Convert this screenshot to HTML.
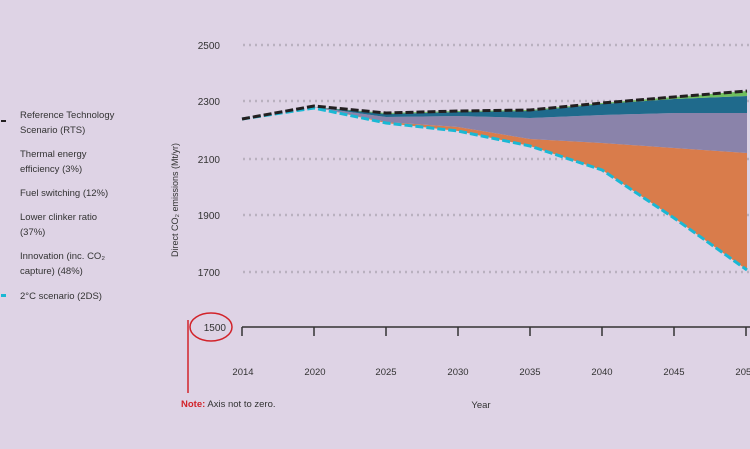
<!DOCTYPE html>
<html><head><meta charset="utf-8"><style>
body{margin:0;background:#ded3e5;}
svg{display:block;font-family:"Liberation Sans",sans-serif;}
</style></head><body>
<svg width="750" height="449" viewBox="0 0 750 449">
<rect width="750" height="449" fill="#ded3e5"/>
<g stroke="#b9b1bf" stroke-width="2.5" stroke-dasharray="2 4">
<line x1="243" y1="45" x2="750" y2="45"/><line x1="243" y1="101" x2="750" y2="101"/>
<line x1="243" y1="159" x2="750" y2="159"/><line x1="243" y1="215" x2="750" y2="215"/>
<line x1="243" y1="272" x2="750" y2="272"/>
</g>
<g font-size="10" fill="#333" text-anchor="end">
<text x="220" y="49">2500</text><text x="220" y="105">2300</text><text x="220" y="163">2100</text>
<text x="220" y="219">1900</text><text x="220" y="276">1700</text><text x="226" y="331">1500</text>
</g>
<text transform="translate(178,200) rotate(-90)" font-size="9" fill="#333" text-anchor="middle">Direct CO₂ emissions (Mt/yr)</text>
<polygon fill="#d97c4b" points="242,119 314,107 386,122 458,127 530,139 602,143 674,148 747,153 747,270 674,218 602,170 530,146 458,131 386,123 314,107"/>
<polygon fill="#8a83aa" points="242,119 314,107 386,117 458,116 530,118 602,115 674,113 747,113 747,153 674,148 602,143 530,139 458,127 386,122 314,107"/>
<polygon fill="#1f6a8c" points="242,119 314,107 386,114 458,112 530,111 602,104 674,99 747,96 747,113 674,113 602,115 530,118 458,116 386,117 314,107"/>
<polygon fill="#6fbf5f" points="242,119 314,107 386,113 458,111 530,110 602,103 674,97 747,91 747,96 674,99 602,104 530,111 458,112 386,114 314,107"/>
<polyline fill="none" stroke="#1ab8d4" stroke-width="3" stroke-dasharray="8 3" points="242,119 314,108 386,123 458,131 530,146 602,170 674,218 747,270"/>
<polyline fill="none" stroke="#231f20" stroke-width="3" stroke-dasharray="8 3" points="242,119 314,106 386,113 458,111 530,110 602,103 674,97 747,91"/>
<g stroke="#333" stroke-width="1.5" fill="none">
<line x1="242" y1="327" x2="750" y2="327"/>
<line x1="242" y1="327" x2="242" y2="336"/><line x1="314" y1="327" x2="314" y2="336"/><line x1="386" y1="327" x2="386" y2="336"/>
<line x1="458" y1="327" x2="458" y2="336"/><line x1="530" y1="327" x2="530" y2="336"/><line x1="602" y1="327" x2="602" y2="336"/>
<line x1="674" y1="327" x2="674" y2="336"/><line x1="746" y1="327" x2="746" y2="336"/>
</g>
<g font-size="9.5" fill="#333" text-anchor="middle">
<text x="243" y="375">2014</text><text x="315" y="375">2020</text><text x="386" y="375">2025</text><text x="458" y="375">2030</text>
<text x="530" y="375">2035</text><text x="602" y="375">2040</text><text x="674" y="375">2045</text><text x="746" y="375">2050</text>
</g>
<text x="481" y="408" font-size="9.5" fill="#333" text-anchor="middle">Year</text>
<ellipse cx="211" cy="327" rx="21" ry="14" fill="none" stroke="#d2232a" stroke-width="1.5"/>
<line x1="188" y1="320" x2="188" y2="393" stroke="#d2232a" stroke-width="1.5"/>
<text x="181" y="407" font-size="9.5" fill="#333"><tspan fill="#d2232a" font-weight="bold">Note:</tspan> Axis not to zero.</text>
<g font-size="9.5" fill="#333">
<rect x="1" y="120" width="5" height="2" fill="#231f20"/>
<text x="20" y="118">Reference Technology</text><text x="20" y="133">Scenario (RTS)</text>
<text x="20" y="157">Thermal energy</text><text x="20" y="172">efficiency (3%)</text>
<text x="20" y="196">Fuel switching (12%)</text>
<text x="20" y="220">Lower clinker ratio</text><text x="20" y="235">(37%)</text>
<text x="20" y="259">Innovation (inc. CO₂</text><text x="20" y="274">capture) (48%)</text>
<rect x="1" y="294" width="5" height="3" fill="#1ab8d4"/>
<text x="20" y="299">2°C scenario (2DS)</text>
</g>
</svg>
</body></html>
